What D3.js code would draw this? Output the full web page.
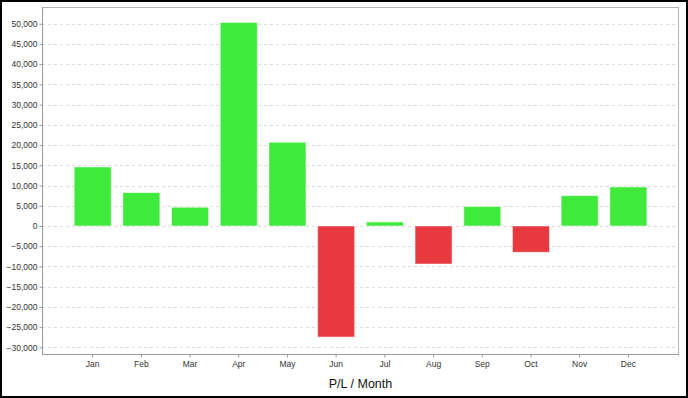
<!DOCTYPE html>
<html><head><meta charset="utf-8">
<script src="https://cdn.jsdelivr.net/npm/d3@7"></script>
<style>body{margin:0;background:#fff}svg{display:block}text{font-family:"Liberation Sans",Arial,sans-serif}</style>
</head><body><svg id="c" width="688" height="398"></svg>
<script>
const months = ["Jan","Feb","Mar","Apr","May","Jun","Jul","Aug","Sep","Oct","Nov","Dec"];
const values = [14600, 8250, 4630, 50300, 20700, -27450, 1000, -9400, 4800, -6500, 7500, 9650];
const yTicks = [-30000,-25000,-20000,-15000,-10000,-5000,0,5000,10000,15000,20000,25000,30000,35000,40000,45000,50000];
const xTitle = "P/L / Month";

const svg = d3.select("#c");
const W = 688, H = 398;
const L = 42, R = 679, T = 7, B = 354;

svg.append("rect").attr("x",1).attr("y",1).attr("width",W-2).attr("height",H-2)
  .attr("fill","#fff").attr("stroke","#000").attr("stroke-width",2);

const x = d3.scaleBand().domain(months).range([L+26.3, R-26.3]).paddingInner(0.24).paddingOuter(0.12);
const y = d3.scaleLinear().domain([-31640, 54130]).range([B, T]);

// grid
svg.append("g").selectAll("line").data(yTicks).join("line")
  .attr("x1",L).attr("x2",R).attr("y1",d=>Math.round(y(d))+0.5).attr("y2",d=>Math.round(y(d))+0.5)
  .attr("stroke","#dcdcdc").attr("stroke-dasharray","3,3");

// plot border
svg.append("rect").attr("x",L+0.5).attr("y",T+0.5).attr("width",R-L-1).attr("height",B-T)
  .attr("fill","none").attr("stroke","#b4b4b4");

// bars
svg.append("g").selectAll("rect").data(values).join("rect")
  .attr("x",(d,i)=>x(months[i]))
  .attr("width",x.bandwidth())
  .attr("y",d=>y(Math.max(0,d)))
  .attr("height",d=>Math.abs(y(d)-y(0)))
  .attr("fill",d=>d>=0?"#3fea3c":"#e8393e")
  .attr("stroke","rgba(255,255,255,0.5)").attr("stroke-width",1);

// y axis
const ya = svg.append("g").attr("transform",`translate(${L+0.5},0)`)
  .call(d3.axisLeft(y).tickValues(yTicks).tickFormat(d3.format(",")).tickSize(3).tickSizeOuter(0));
ya.select(".domain").attr("stroke","#999").attr("d",`M0,${T}V${B+0.5}`);
ya.selectAll(".tick line").attr("stroke","#999");
ya.selectAll(".tick text").attr("font-size","8.5px").attr("fill","#333").attr("x",-5)
  .attr("font-family","'Liberation Sans',Arial,sans-serif");

// x axis
const xa = svg.append("g").attr("transform",`translate(0,${B+0.5})`)
  .call(d3.axisBottom(x).tickSize(3).tickSizeOuter(0));
xa.select(".domain").attr("stroke","#999").attr("d",`M${L},0H${R}`);
xa.selectAll(".tick line").attr("stroke","#999");
xa.selectAll(".tick text").attr("font-size","8.5px").attr("fill","#333").attr("y",6)
  .attr("font-family","'Liberation Sans',Arial,sans-serif");

svg.append("text").attr("x",(L+R)/2).attr("y",388).attr("text-anchor","middle")
  .attr("font-size","12.5px").attr("fill","#111").text(xTitle);
</script></body></html>
